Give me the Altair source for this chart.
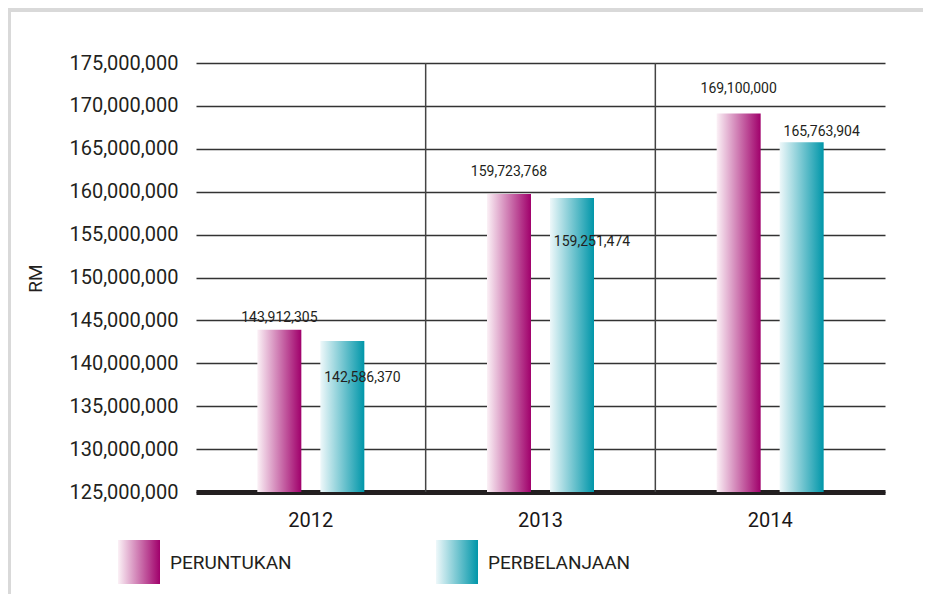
import altair as alt
import pandas as pd

# ---- data ----
years = ["2012", "2013", "2014"]
series = ["PERUNTUKAN", "PERBELANJAAN"]
peruntukan = [143912305, 159723768, 169100000]
perbelanjaan = [142586370, 159251474, 165763904]
y_ticks = list(range(125000000, 175000001, 5000000))
dividers = ["2013", "2014"]

rows = []
for i, yr in enumerate(years):
    rows.append({"year": yr, "series": series[0], "value": peruntukan[i]})
    rows.append({"year": yr, "series": series[1], "value": perbelanjaan[i]})
df = pd.DataFrame(rows)
legend_df = pd.DataFrame({"series": series})
div_df = pd.DataFrame({"year": dividers})
one = pd.DataFrame({"k": [0]})

FONT = "Roboto"
TXT = "#231f20"

def grad(c0, c1):
    return alt.Gradient(
        gradient="linear",
        stops=[alt.GradientStop(color=c0, offset=0), alt.GradientStop(color=c1, offset=1)],
        x1=0, x2=1, y1=0, y2=0,
    )

G_P = grad("#fbf1f6", "#a0006b")
G_B = grad("#eef8fa", "#0096a9")

x_scale = alt.Scale(domain=years, paddingInner=0, paddingOuter=0)
xo_scale = alt.Scale(domain=series, paddingInner=0.3016, paddingOuter=0.9736)
y_scale = alt.Scale(domain=[125000000, 175000000], zero=False, nice=False)

x_axis = alt.Axis(title=None, labelAngle=0, labelFont=FONT, labelFontSize=20,
                  labelColor="#1a1718", labelPadding=18, ticks=False,
                  grid=False, domainColor=TXT, domainWidth=5)
y_axis = alt.Axis(values=y_ticks, format=",d", title="RM", labelFont=FONT,
                  labelFontSize=20, labelColor=TXT, labelPadding=18, ticks=False,
                  domain=False, grid=True, gridColor="#333333", gridWidth=1.3,
                  titleFont=FONT, titleFontSize=19, titleFontWeight="normal",
                  titleColor=TXT, titleX=-161, titleY=215, titleAlign="center",
                  titleBaseline="middle")

def X():
    return alt.X("year:N", scale=x_scale, sort=years, axis=x_axis)

def Y(field):
    return alt.Y(field, scale=y_scale, axis=y_axis)

xo_enc = alt.XOffset("series:N", scale=xo_scale, sort=series)

base = alt.Chart(df)

bars_p = base.transform_filter(alt.datum.series == series[0]).mark_bar(color=G_P).encode(
    x=X(), xOffset=xo_enc, y=Y("value:Q"), y2=alt.datum(125000000))
bars_b = base.transform_filter(alt.datum.series == series[1]).mark_bar(color=G_B).encode(
    x=X(), xOffset=xo_enc, y=Y("value:Q"), y2=alt.datum(125000000))

dividers_layer = alt.Chart(div_df).mark_rule(color="#444444", strokeWidth=1.5).encode(
    x=alt.X("year:N", scale=x_scale, sort=years, bandPosition=0, axis=x_axis))

label_expr = (
    "datum.series == 'PERUNTUKAN' ? datum.value + (datum.year == '2012' ? 1370000 : "
    "datum.year == '2013' ? 2580000 : 2870000) : datum.value + (datum.year == '2012' ? "
    "-4300000 : datum.year == '2013' ? -5110000 : 1200000)"
)
labels_p = base.transform_filter(alt.datum.series == series[0]).transform_calculate(
    label_y=label_expr).mark_text(font=FONT, fontSize=14, color=TXT, baseline="middle").encode(
    x=X(), xOffset=xo_enc, y=Y("label_y:Q"), text=alt.Text("value:Q", format=","))
labels_b = base.transform_filter(alt.datum.series == series[1]).transform_calculate(
    label_y=label_expr).mark_text(font=FONT, fontSize=14, color=TXT, baseline="middle", dx=20).encode(
    x=X(), xOffset=xo_enc, y=Y("label_y:Q"), text=alt.Text("value:Q", format=","))

# ---- custom legend with gradient swatches ----
leg_rect_p = alt.Chart(legend_df).transform_filter(alt.datum.series == series[0]).mark_rect(color=G_P).encode(
    x=alt.value(-78), x2=alt.value(-36), y=alt.value(477), y2=alt.value(521))
leg_rect_b = alt.Chart(legend_df).transform_filter(alt.datum.series == series[1]).mark_rect(color=G_B).encode(
    x=alt.value(240), x2=alt.value(282), y=alt.value(477), y2=alt.value(521))
leg_text_p = alt.Chart(legend_df).transform_filter(alt.datum.series == series[0]).mark_text(
    font=FONT, fontSize=19, color=TXT, align="left", baseline="middle").encode(
    x=alt.value(-26), y=alt.value(500), text="series:N")
leg_text_b = alt.Chart(legend_df).transform_filter(alt.datum.series == series[1]).mark_text(
    font=FONT, fontSize=19, color=TXT, align="left", baseline="middle").encode(
    x=alt.value(292), y=alt.value(500), text="series:N")

# ---- light grey frame (top and left edges) ----
frame_top = alt.Chart(one).mark_rect(color="#d9d9d9").encode(
    x=alt.value(-188), x2=alt.value(727), y=alt.value(-55), y2=alt.value(-51))
frame_left = alt.Chart(one).mark_rect(color="#d9d9d9").encode(
    x=alt.value(-188), x2=alt.value(-185), y=alt.value(-55), y2=alt.value(531))

chart = alt.layer(
    frame_top, frame_left, dividers_layer, bars_p, bars_b, labels_p, labels_b,
    leg_rect_p, leg_rect_b, leg_text_p, leg_text_b,
).properties(
    width=689, height=429,
    padding={"left": 188, "top": 55, "right": 38, "bottom": 110},
    autosize=alt.AutoSizeParams(type="none"),
    background="white",
).configure_view(stroke=None)

chart.save("out.html", embed_options={"renderer": "svg", "actions": False})
